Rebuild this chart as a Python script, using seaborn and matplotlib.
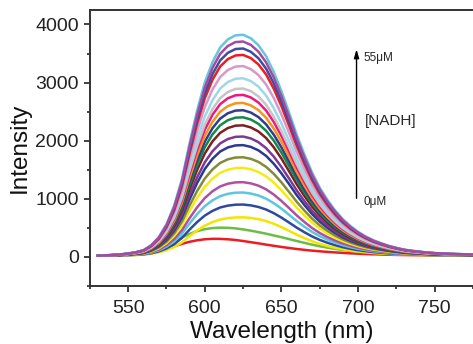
import numpy as np
import pandas as pd
import seaborn as sns
import matplotlib.pyplot as plt

sns.set_style('ticks')
plt.rcParams['font.family'] = ['Liberation Sans', 'DejaVu Sans']

# wavelength grid (nm), 5 nm steps
wavelength = list(range(530, 780, 5))

# brightest spectrum (55 uM)
top_curve = [20, 25, 32, 42, 58, 80, 115, 200, 340, 560,
             880, 1330, 1950, 2520, 3000, 3350, 3600, 3740, 3810, 3820,
             3760, 3640, 3450, 3180, 2850, 2480, 2100, 1760, 1450, 1190,
             980, 800, 650, 530, 430, 350, 285, 235, 190, 155,
             125, 105, 90, 75, 65, 58, 52, 48, 44, 41]
# lowest spectrum (0 uM)
red_curve = [20, 23, 27, 33, 42, 55, 72, 93, 118, 148,
             183, 223, 258, 285, 302, 310, 309, 302, 290, 272,
             252, 232, 210, 190, 170, 152, 135, 120, 106, 95,
             85, 76, 68, 60, 54, 48, 44, 40, 36, 33,
             31, 29, 27, 26, 25, 24, 23, 22, 22, 21]
# second spectrum
green_curve = [20, 24, 29, 37, 48, 62, 83, 113, 153, 208,
               268, 333, 393, 443, 476, 495, 502, 500, 490, 472,
               450, 425, 398, 368, 338, 305, 272, 240, 210, 182,
               158, 136, 118, 103, 90, 79, 70, 62, 55, 49,
               44, 40, 36, 33, 31, 29, 27, 26, 25, 24]

# peak heights of the remaining spectra (bottom to top)
peaks = [680, 900, 1107, 1285, 1532, 1714, 1923, 2071, 2264, 2402,
         2524, 2650, 2788, 2898, 3074, 3284, 3476, 3587, 3707, 3823]

colors = ['#ED1C24', '#6ABD45',
          '#F2E600', '#2E4A9E', '#5CC6DA', '#B04FA0', '#F5EB14', '#858B34',
          '#2B3990', '#7B3A96', '#7E1F22', '#13884A', '#2E3D92', '#F7941D',
          '#EC1A7E', '#C4C5C7', '#9ED8E8', '#D699C8', '#ED1C24', '#3A4FA2',
          '#A54A9F', '#66C6DA']

base = 20
rows = []
for i in range(len(colors)):
    if i == 0:
        vals = red_curve
    elif i == 1:
        vals = green_curve
    else:
        p = peaks[i - 2]
        vals = [base + (v - base) * (p - base) / (top_curve[19] - base) for v in top_curve]
    for w, v in zip(wavelength, vals):
        rows.append({'wl': w, 'I': v, 'spec': i})
df = pd.DataFrame(rows)

order = list(range(len(colors)))
order[-1], order[-2] = order[-2], order[-1]  # magenta sits on top in the tails

fig = plt.figure(figsize=(4.73, 3.44), dpi=100)
ax = fig.add_axes([0.190, 0.169, 0.81, 0.802])
sns.lineplot(data=df, x='wl', y='I', hue='spec', hue_order=order,
             palette=dict(zip(range(len(colors)), colors)),
             linewidth=1.8, legend=False, ax=ax)

ax.set_xlim(530, 775)
ax.set_ylim(-310, 4250)
ax.set_xticks([550, 600, 650, 700, 750])
ax.set_xticks(range(525, 776, 25), minor=True)
ax.set_yticks([0, 1000, 2000, 3000, 4000])
ax.set_yticks(range(-500, 4251, 500), minor=True)
ax.tick_params(which='major', length=4, width=1.2, labelsize=14, colors='#222222', pad=4)
ax.tick_params(which='minor', length=2.5, width=1.2)
ax.tick_params(axis='x', which='major', pad=6)
for s in ['left', 'bottom', 'top']:
    ax.spines[s].set_linewidth(1.4)
    ax.spines[s].set_color('#333333')
ax.spines['right'].set_visible(False)
ax.set_xlabel('Wavelength (nm)', fontsize=17.5, labelpad=3, color='#111111')
ax.set_ylabel('Intensity', fontsize=17.5, labelpad=3, color='#111111')

ax.annotate('', xy=(699, 3620), xytext=(699, 960),
            arrowprops=dict(arrowstyle='-|>,head_length=0.5,head_width=0.15',
                            color='black', lw=1))
ax.text(703.5, 3430, '55μM', fontsize=8.5, va='center')
ax.text(704.5, 2330, '[NADH]', fontsize=11, va='center')
ax.text(703.5, 950, '0μM', fontsize=8.5, va='center')

fig.savefig('out.png', dpi=100)
